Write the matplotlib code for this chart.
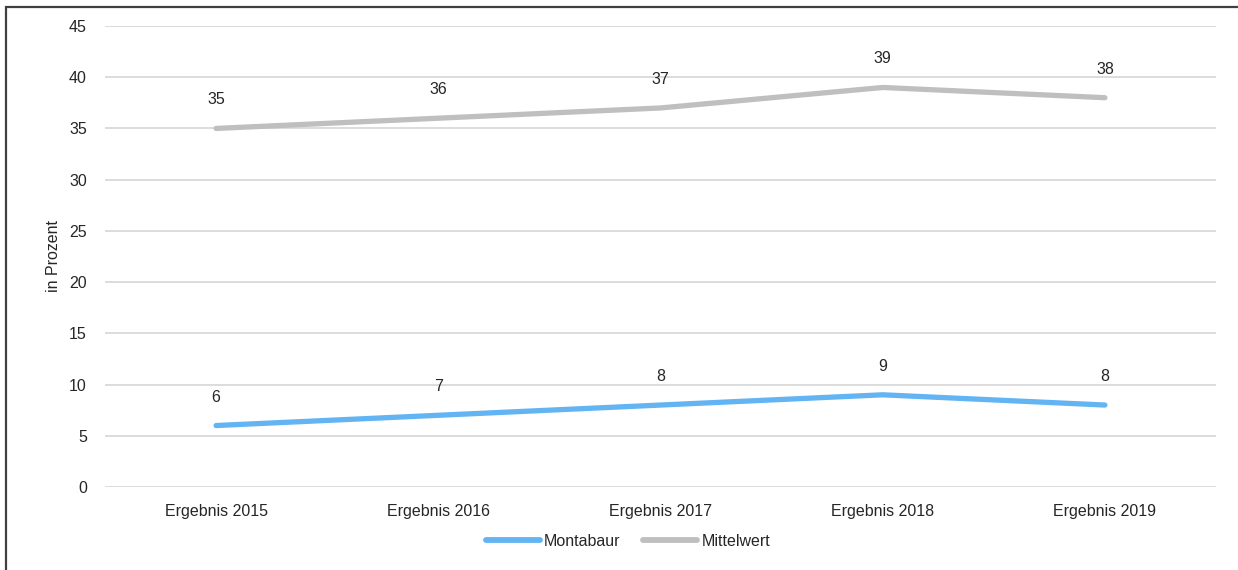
import matplotlib
matplotlib.use("Agg")
import matplotlib.pyplot as plt
from matplotlib.patches import Rectangle

plt.rcParams['font.family'] = ['Liberation Sans', 'DejaVu Sans']

categories = ["Ergebnis 2015", "Ergebnis 2016", "Ergebnis 2017", "Ergebnis 2018", "Ergebnis 2019"]
montabaur = [6, 7, 8, 9, 8]
mittelwert = [35, 36, 37, 39, 38]
y_ticks = [0, 5, 10, 15, 20, 25, 30, 35, 40, 45]

FS = 11.5
TXT = '#262626'

fig = plt.figure(figsize=(12.38, 5.70), dpi=100)
ax = fig.add_axes([105 / 1238, 1 - 487 / 570, 1111 / 1238, 461 / 570])

x = list(range(len(categories)))
series = [("Montabaur", montabaur, "#63B4F3"), ("Mittelwert", mittelwert, "#BFBFBF")]
for name, vals, col in series:
    ax.plot(x, vals, color=col, lw=3.8, solid_capstyle='round', label=name, zorder=3)
    for xi, v in zip(x, vals):
        ax.annotate(str(v), (xi, v), xytext=(0, 20.5), textcoords='offset points',
                    ha='center', va='center', fontsize=FS, color=TXT)

ax.set_xlim(-0.5, len(categories) - 0.5)
ax.set_ylim(0, 45)
ax.set_yticks(y_ticks)
ax.set_xticks(x)
ax.set_xticklabels(categories)
ax.tick_params(axis='both', length=0, labelsize=FS, labelcolor=TXT)
ax.tick_params(axis='y', pad=13)
ax.tick_params(axis='x', pad=12.5)
ax.grid(axis='y', color='#D9D9D9', lw=1.3)
ax.set_axisbelow(True)
for s in ax.spines.values():
    s.set_visible(False)
ax.set_ylabel("in Prozent", fontsize=FS, color=TXT, labelpad=6)

leg = fig.legend(loc='center', bbox_to_anchor=(628 / 1238, 1 - 541 / 570), ncol=2, frameon=False,
                 fontsize=FS, handlelength=3.4, handletextpad=0.25, columnspacing=1.4)
for t in leg.get_texts():
    t.set_color(TXT)
for h in leg.legend_handles:
    h.set_linewidth(4.2)

# outer frame
fig.patches.append(Rectangle((6 / 1238, -0.1), 1.2, 1.1 - 7 / 570, transform=fig.transFigure,
                             fill=False, edgecolor='#404040', lw=1.6))

fig.savefig("out.png", dpi=100)
